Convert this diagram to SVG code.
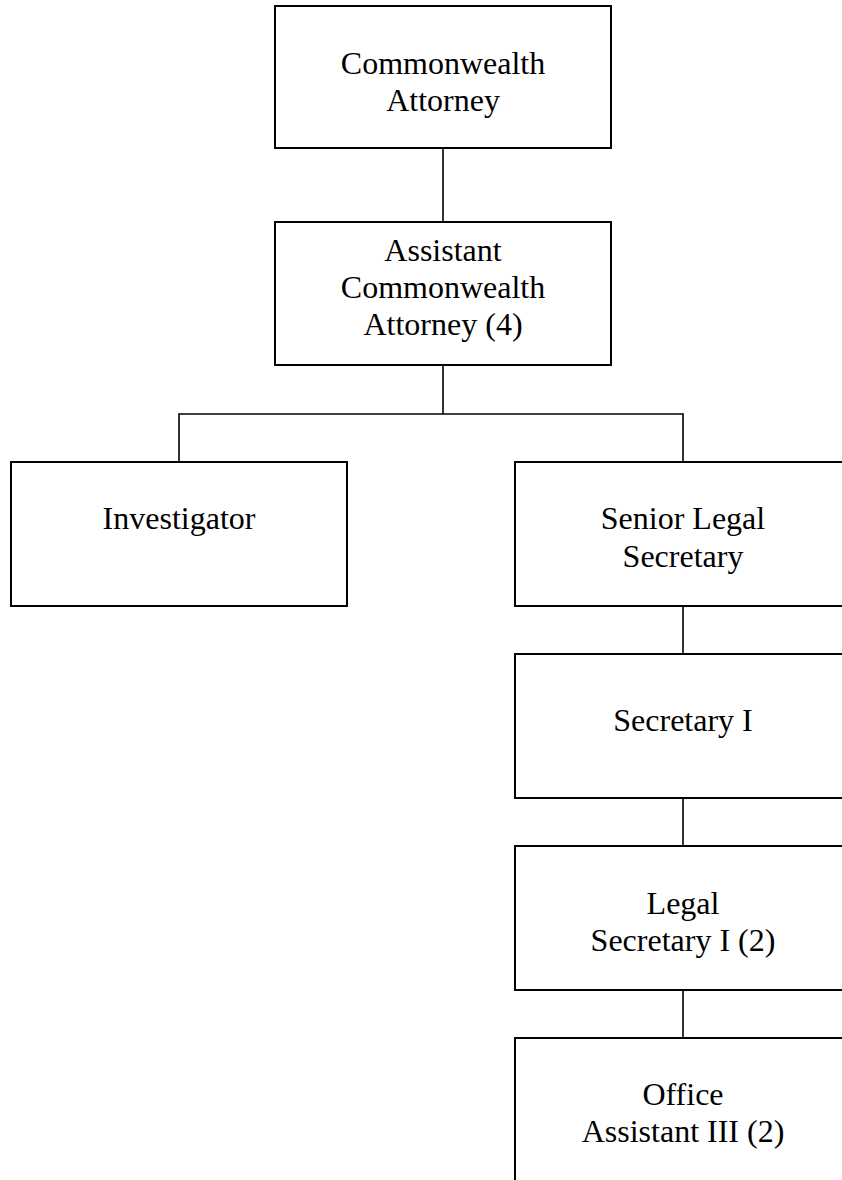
<svg xmlns="http://www.w3.org/2000/svg" width="842" height="1180" viewBox="0 0 842 1180">
  <style>
    .box { fill: #ffffff; stroke: #000000; stroke-width: 2; }
    .link { fill: none; stroke: #000000; stroke-width: 1.6; }
    .label { font-family: "Liberation Serif", "Times New Roman", serif; font-size: 32px; fill: #000000; text-anchor: middle; }
  </style>
  <rect x="0" y="0" width="842" height="1180" fill="#ffffff"/>

  <!-- reporting lines -->
  <g id="connectors">
    <line class="link" x1="443" y1="148" x2="443" y2="222"/>
    <line class="link" x1="443" y1="365" x2="443" y2="414"/>
    <polyline class="link" points="179,462 179,414 683,414 683,462"/>
    <line class="link" x1="683" y1="606" x2="683" y2="654"/>
    <line class="link" x1="683" y1="798" x2="683" y2="846"/>
    <line class="link" x1="683" y1="990" x2="683" y2="1038"/>
  </g>

  <g id="commonwealth-attorney">
    <rect class="box" x="275" y="6" width="336" height="142"/>
    <text class="label" x="443" y="74">Commonwealth</text>
    <text class="label" x="443" y="111">Attorney</text>
  </g>

  <g id="assistant-commonwealth-attorney">
    <rect class="box" x="275" y="222" width="336" height="143"/>
    <text class="label" x="443" y="261">Assistant</text>
    <text class="label" x="443" y="298">Commonwealth</text>
    <text class="label" x="443" y="335">Attorney (4)</text>
  </g>

  <g id="investigator">
    <rect class="box" x="11" y="462" width="336" height="144"/>
    <text class="label" x="179" y="529">Investigator</text>
  </g>

  <g id="senior-legal-secretary">
    <rect class="box" x="515" y="462" width="336" height="144"/>
    <text class="label" x="683" y="529">Senior Legal</text>
    <text class="label" x="683" y="567">Secretary</text>
  </g>

  <g id="secretary-i">
    <rect class="box" x="515" y="654" width="336" height="144"/>
    <text class="label" x="683" y="731">Secretary I</text>
  </g>

  <g id="legal-secretary-i">
    <rect class="box" x="515" y="846" width="336" height="144"/>
    <text class="label" x="683" y="914">Legal</text>
    <text class="label" x="683" y="951">Secretary I (2)</text>
  </g>

  <g id="office-assistant-iii">
    <rect class="box" x="515" y="1038" width="336" height="144"/>
    <text class="label" x="683" y="1105">Office</text>
    <text class="label" x="683" y="1142">Assistant III (2)</text>
  </g>
</svg>
